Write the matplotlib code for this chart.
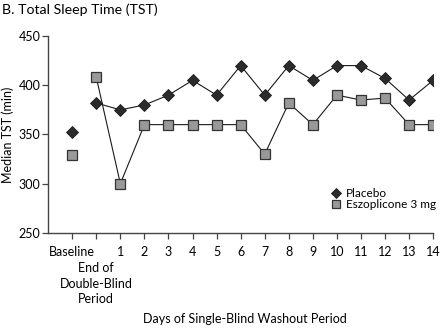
import matplotlib
matplotlib.use("Agg")
import matplotlib.pyplot as plt

plt.rcParams['font.family'] = ['Lato', 'DejaVu Sans']

# kategori sumbu x: baseline, akhir periode double-blind, hari 1-14
kategori = ["Baseline", ""] + [str(d) for d in range(1, 15)]
label_db = "End of\nDouble-Blind\nPeriod"
placebo = [353, 382, 375, 380, 390, 405, 390, 420, 390, 420, 405, 420, 420, 407, 385, 405]
eszopiklon = [329, 408, 300, 360, 360, 360, 360, 360, 330, 382, 360, 390, 385, 387, 360, 360]

x = list(range(len(kategori)))

fig = plt.figure(figsize=(4.42, 3.28), dpi=100)
ax = fig.add_axes([0.109, 0.29, 0.871, 0.60])

warna_garis = '#1a1a1a'
# baseline: hanya titik, tanpa garis
ax.plot(x[0], placebo[0], linestyle='none', marker='D', ms=6.5,
        mfc='#2b2b2b', mec='#1a1a1a', mew=0.6)
ax.plot(x[0], eszopiklon[0], linestyle='none', marker='s', ms=6.5,
        mfc='#999999', mec='#333333', mew=0.9)
# periode washout
ax.plot(x[1:], placebo[1:], color=warna_garis, lw=0.8, marker='D', ms=6.5,
        mfc='#2b2b2b', mec='#1a1a1a', mew=0.6, label='Placebo')
ax.plot(x[1:], eszopiklon[1:], color=warna_garis, lw=0.8, marker='s', ms=6.5,
        mfc='#999999', mec='#333333', mew=0.9, label='Eszoplicone 3 mg')

ax.set_xlim(-1, 15)
ax.set_ylim(250, 450)
ax.set_yticks([250, 300, 350, 400, 450])
ax.set_xticks(x)
ax.set_xticklabels(kategori, fontsize=9)
ax.tick_params(axis='y', labelsize=9, length=4, width=0.9, pad=1.5, color='#444444')
ax.tick_params(axis='x', length=4.5, width=0.9, pad=5, color='#444444')

# label "End of Double-Blind Period" satu baris lebih rendah
ax.annotate(label_db, xy=(x[1], 0), xycoords=('data', 'axes fraction'),
            xytext=(0, -29), textcoords='offset pixels', ha='center', va='top',
            fontsize=9, linespacing=1.38)

for s in ['top', 'right']:
    ax.spines[s].set_visible(False)
for s in ['left', 'bottom']:
    ax.spines[s].set_color('#444444')
    ax.spines[s].set_linewidth(1.0)

ax.set_ylabel('Median TST (min)', fontsize=9, labelpad=3)
fig.text(0.553, 0.008, 'Days of Single-Blind Washout Period', fontsize=9, ha='center', va='bottom')
fig.text(0.005, 0.99, 'B. Total Sleep Time (TST)', fontsize=10.2, ha='left', va='top')

leg = ax.legend(loc='lower left', bbox_to_anchor=(0.733, 0.115), frameon=False,
                fontsize=8.5, handlelength=0.9, handletextpad=0.4, labelspacing=0.05,
                markerscale=0.85, borderpad=0, borderaxespad=0)
for h in leg.legend_handles:
    h.set_linestyle('none')

fig.savefig('out.png', dpi=100)
